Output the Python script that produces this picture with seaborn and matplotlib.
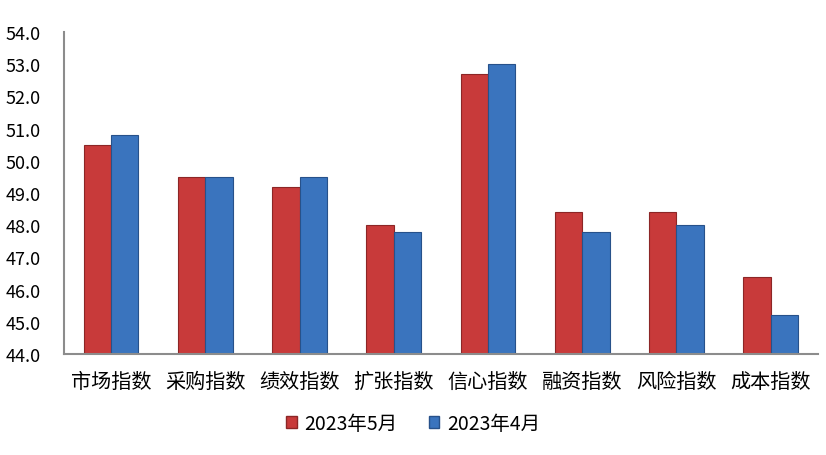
import matplotlib
matplotlib.use("Agg")
import matplotlib.pyplot as plt
import seaborn as sns
import pandas as pd
from matplotlib.patches import Patch

categories = ["市场指数", "采购指数", "绩效指数", "扩张指数", "信心指数", "融资指数", "风险指数", "成本指数"]
may_2023 = [50.5, 49.5, 49.2, 48.0, 52.7, 48.4, 48.4, 46.4]
apr_2023 = [50.8, 49.5, 49.5, 47.8, 53.0, 47.8, 48.0, 45.2]
series_names = ["2023年5月", "2023年4月"]
yticks = [44.0, 45.0, 46.0, 47.0, 48.0, 49.0, 50.0, 51.0, 52.0, 53.0, 54.0]

sns.set_theme(style="white")
plt.rcParams['font.family'] = ['Noto Sans CJK SC', 'DejaVu Sans']
plt.rcParams['text.color'] = 'black'
plt.rcParams['xtick.color'] = 'black'
plt.rcParams['ytick.color'] = 'black'

df = pd.DataFrame({
    "category": categories * 2,
    "value": may_2023 + apr_2023,
    "series": [series_names[0]] * len(categories) + [series_names[1]] * len(categories),
})

colors = {series_names[0]: "#C83A3A", series_names[1]: "#3A74BE"}
edges = {series_names[0]: "#8C2626", series_names[1]: "#27518A"}

fig = plt.figure(figsize=(8.26, 4.56), dpi=100)
ax = fig.add_axes([0.0775, 0.2215, 0.9125, 0.7061])

sns.barplot(data=df, x="category", y="value", hue="series", palette=colors,
            width=0.58, gap=0, ax=ax, legend=False, saturation=1)

n = len(categories)
for i, bar in enumerate(ax.patches[:2 * n]):
    s = series_names[0] if i < n else series_names[1]
    bar.set_edgecolor(edges[s])
    bar.set_linewidth(0.8)

ax.set_ylim(44.0, 54.0)
ax.set_xlim(-0.5, n - 0.5)
ax.set_yticks(yticks)
ax.set_yticklabels([f"{v:.1f}" for v in yticks], fontsize=13)
ax.set_xticklabels(categories, fontsize=14.5)
ax.tick_params(axis='y', length=0, pad=17)
ax.tick_params(axis='x', length=0, pad=12)
ax.set_xlabel("")
ax.set_ylabel("")
for side in ["top", "right"]:
    ax.spines[side].set_visible(False)
for side in ["left", "bottom"]:
    ax.spines[side].set_color("#8C8C8C")
    ax.spines[side].set_linewidth(1.5)

handles = [Patch(facecolor=colors[s], edgecolor=edges[s], label=s) for s in series_names]
fig.legend(handles=handles, loc="center", bbox_to_anchor=(0.5, 0.07), ncol=2,
           frameon=False, fontsize=14, handlelength=0.55, handleheight=0.55,
           handletextpad=0.4, columnspacing=1.6)

fig.savefig("out.png", dpi=100)
